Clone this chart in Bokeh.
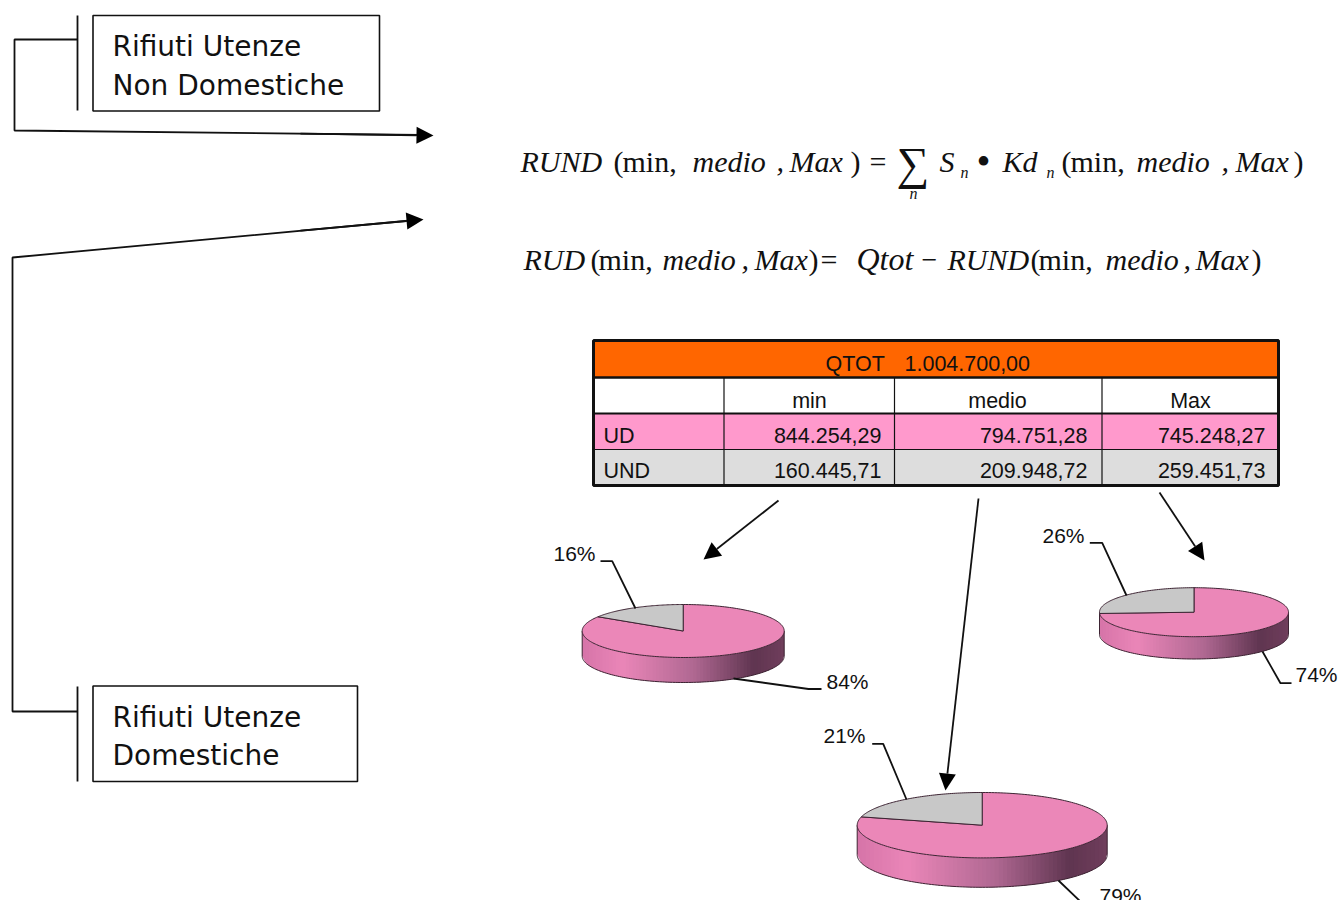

import math
from bokeh.plotting import figure
from bokeh.embed import file_html
from bokeh.resources import INLINE
from bokeh.core.properties import value
from bokeh.models import Range1d, Arrow, NormalHead

# ---- data ----
qtot_label = "QTOT"
qtot_value = "1.004.700,00"
columns = ["min", "medio", "Max"]
rows = ["UD", "UND"]
ud_values = [844254.29, 794751.28, 745248.27]
und_values = [160445.71, 209948.72, 259451.73]
ud_text = ["844.254,29", "794.751,28", "745.248,27"]
und_text = ["160.445,71", "209.948,72", "259.451,73"]
pct_und = ["16%", "21%", "26%"]
pct_ud = ["84%", "79%", "74%"]

PINK = "#EB87B8"
GREY = "#C8C8C8"
EDGE = "#3d2433"
SANS = "Liberation Sans"
SERIF = "Liberation Serif"
BOX = "DejaVu Sans"

p = figure(width=1339, height=900, output_backend="svg", toolbar_location=None,
           x_range=Range1d(0, 1339), y_range=Range1d(900, 0), min_border=0)
p.axis.visible = False
p.grid.visible = False
p.outline_line_color = None


def txt(x, y, s, font=SANS, size=20, style="normal", align="left", color="#111111"):
    # y is the baseline of the text; the glyph is anchored on its middle
    p.text([x], [y - 0.36 * size], text=[s], text_font=value(font), text_font_size=value(f"{size}px"),
           text_font_style=style, text_align=align, text_baseline="middle", text_color=color)


def poly(pts, width=1.8, color="#111111"):
    p.line([a for a, _ in pts], [b for _, b in pts], line_color=color, line_width=width)


def arrow(a, b, size=17, width=1.8):
    p.add_layout(Arrow(end=NormalHead(size=size, fill_color="black", line_color="black", line_width=0),
                       x_start=a[0], y_start=a[1], x_end=b[0], y_end=b[1],
                       line_color="#111111", line_width=width))


# ---- left boxes and connectors ----
for x0, x1, y0, y1 in [(92.5, 379, 15, 110.5), (92.5, 357, 685.5, 781)]:
    p.quad(left=[x0], right=[x1], top=[y0], bottom=[y1], fill_color="white",
           line_color="#111111", line_width=1.6)
poly([(77, 15), (77, 110)])
poly([(77, 686), (77, 781)])
poly([(77, 39), (14, 39), (14, 130), (420, 134.5)])
arrow((300, 133.2), (433, 135))
poly([(77, 711), (12, 711), (12, 257), (410, 220)])
arrow((300, 230.2), (423, 219))
txt(112, 56, "Rifiuti Utenze", BOX, 28)
txt(112, 95.5, "Non Domestiche", BOX, 28)
txt(112, 727, "Rifiuti Utenze", BOX, 28)
txt(112, 765, "Domestiche", BOX, 28)

# ---- formulas ----
F = 30
for x, y, s, st in [
    (520, 172, "RUND", "italic"), (613, 172, "(", "normal"), (622, 172, "min,", "normal"),
    (692, 172, "medio", "italic"), (776, 172, ",", "italic"), (789, 172, "Max", "italic"),
    (850, 172, ")", "normal"), (869, 172, "=", "normal"),
    (939, 172, "S", "italic"), (1002, 172, "Kd", "italic"),
    (1061, 172, "(", "normal"), (1070, 172, "min,", "normal"), (1136, 172, "medio", "italic"),
    (1221, 172, ",", "italic"), (1235, 172, "Max", "italic"), (1293, 172, ")", "normal"),
    (523, 270, "RUD", "italic"), (590, 270, "(", "normal"), (598, 270, "min,", "normal"),
    (662, 270, "medio", "italic"), (741, 270, ",", "italic"), (754, 270, "Max", "italic"),
    (808, 270, ")", "normal"), (820, 270, "=", "normal"),
    (947, 270, "RUND", "italic"), (1030, 270, "(", "normal"),
    (1038, 270, "min,", "normal"), (1105, 270, "medio", "italic"), (1183, 270, ",", "italic"),
    (1195, 270, "Max", "italic"), (1251, 270, ")", "normal"),
]:
    txt(x, y, s, SERIF, F, st)
txt(856, 270, "Qtot", SERIF, 32, "italic")
txt(921, 270, "−", SERIF, 28)
txt(976, 175, "•", SERIF, 40)
txt(896, 180, "∑", SERIF, 46)
for x, y in [(909, 199), (960, 178), (1046, 178)]:
    txt(x, y, "n", SERIF, 16, "italic")

# ---- table ----
col_x = [593, 723.5, 894, 1101.5, 1278]
p.quad(left=[593], right=[1278], top=[340], bottom=[377], fill_color="#FF6600", line_color=None)
p.quad(left=[593], right=[1278], top=[413], bottom=[449], fill_color="#FF99CC", line_color=None)
p.quad(left=[593], right=[1278], top=[449], bottom=[485], fill_color="#DDDDDD", line_color=None)
for x in col_x[1:-1]:
    poly([(x, 377), (x, 485)], 1.2)
poly([(593, 449), (1278, 449)], 1.2)
poly([(593, 413), (1278, 413)], 2)
poly([(593, 377), (1278, 377)], 2.5)
p.quad(left=[593], right=[1278], top=[340], bottom=[485], fill_color=None,
       line_color="#111111", line_width=3)
T = 21.5
txt(825, 371, qtot_label, SANS, T)
txt(904, 371, qtot_value, SANS, T)
for cx, c in zip([809, 997, 1190], columns):
    txt(cx, 408, c, SANS, T, align="center")
txt(603, 443, rows[0], SANS, T)
txt(603, 478, rows[1], SANS, T)
for rx, a, b in zip([881, 1087, 1265], ud_text, und_text):
    txt(rx, 443, a, SANS, T, align="right")
    txt(rx, 478, b, SANS, T, align="right")

arrow((778, 500), (703, 559))
arrow((978, 498), (945, 790))
arrow((1159, 492), (1204, 560))

# ---- 3D pies ----
STOPS = [(0, (214, 116, 168)), (0.2, (234, 134, 184)), (0.55, (176, 104, 146)),
         (0.85, (95, 53, 80)), (1, (112, 62, 92))]


def shade(t):
    for (a, ca), (b, cb) in zip(STOPS, STOPS[1:]):
        if t <= b:
            k = (t - a) / (b - a)
            return "#%02x%02x%02x" % tuple(round(u + (v - u) * k) for u, v in zip(ca, cb))
    return "#703e5c"


def pie(cx, cy, rx, ry, depth, ud, und):
    n = 60
    xs, ys = [], []
    cols = []
    e = lambda x: cy + ry * math.sqrt(max(0, 1 - ((x - cx) / rx) ** 2))
    for i in range(n):
        t0, t1 = i / n, (i + 1) / n
        a0 = cx - rx + 2 * rx * t0
        a1 = cx - rx + 2 * rx * t1
        a2 = cx - rx + 2 * rx * min(1, t1 + 0.012)  # overlap hides the seams
        xs.append([a0, a1, a2, a2, a1, a0])
        ys.append([e(a0), e(a1), e(a2), e(a2) + depth, e(a1) + depth, e(a0) + depth])
        cols.append(shade((t0 + t1) / 2))
    p.patches(xs, ys, fill_color=cols, line_color=None)
    # outer outline of the side wall
    ang = [math.pi * i / 120 for i in range(121)]
    p.line([cx + rx * math.cos(a) for a in ang], [cy + depth + ry * math.sin(a) for a in ang],
           line_color=EDGE, line_width=1)
    p.line([cx - rx, cx - rx], [cy, cy + depth], line_color=EDGE, line_width=1)
    p.line([cx + rx, cx + rx], [cy, cy + depth], line_color=EDGE, line_width=1)
    # top face: the grey slice runs anticlockwise from 12 o'clock
    share = und / (ud + und)

    def arc(a, b, m=80):
        pts = [a + (b - a) * i / m for i in range(m + 1)]
        return ([cx + rx * math.sin(q) for q in pts], [cy - ry * math.cos(q) for q in pts])
    split = -2 * math.pi * share
    ax, ay = arc(0, 2 * math.pi + split, 200)
    p.patch([cx] + ax, [cy] + ay, fill_color=PINK, line_color=EDGE, line_width=1)
    gx, gy = arc(split, 0)
    p.patch([cx] + gx, [cy] + gy, fill_color=GREY, line_color=EDGE, line_width=1)


pie(682.7, 630.5, 101, 26.5, 25, ud_values[0], und_values[0])
pie(981.7, 824.7, 125, 32.7, 29.4, ud_values[1], und_values[1])
pie(1193.5, 611.7, 94.5, 24.5, 22.3, ud_values[2], und_values[2])

# ---- pie labels and leaders ----
L = 21
txt(553, 561, pct_und[0], SANS, L)
poly([(600, 560.7), (611.7, 560.7), (635, 608)])
txt(826, 689, pct_ud[0], SANS, L)
poly([(733, 678), (808, 688.5), (821, 688.5)])
txt(823, 743, pct_und[1], SANS, L)
poly([(871.7, 743.3), (882.7, 743.3), (906, 799)])
txt(1099, 903, pct_ud[1], SANS, L)
poly([(1058, 880), (1082, 903), (1095, 903)])
txt(1042, 543, pct_und[2], SANS, L)
poly([(1089.3, 542.3), (1101.7, 542.3), (1126, 595)])
txt(1295, 682, pct_ud[2], SANS, L)
poly([(1262, 651), (1280, 682.7), (1291, 682.7)])

open("out.html", "w").write(file_html(p, INLINE))
